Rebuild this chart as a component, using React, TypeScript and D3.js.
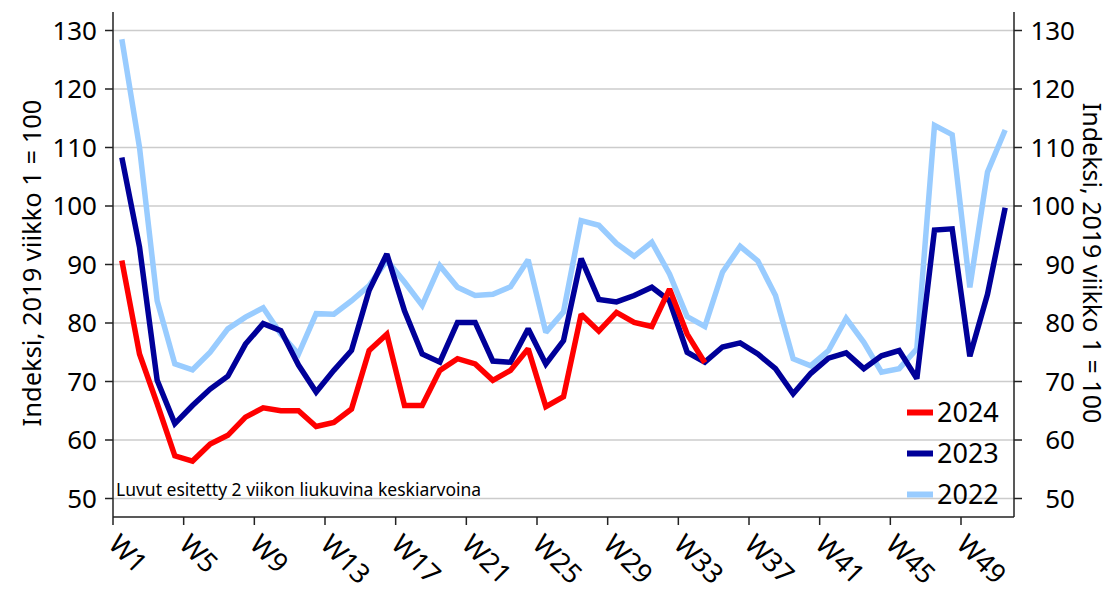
import React, { useEffect, useRef } from "react";
import * as d3 from "d3";

// weeks W1..W51
const weeks: string[] = d3.range(1, 52).map((i) => `W${i}`);
const tickWeeks = ["W1", "W5", "W9", "W13", "W17", "W21", "W25", "W29", "W33", "W37", "W41", "W45", "W49"];
const yTicks = [50, 60, 70, 80, 90, 100, 110, 120, 130];

const values2024 = [
  90.7, 74.7, 66.2, 57.3, 56.4, 59.3, 60.8, 63.9, 65.5, 65, 65, 62.3, 63, 65.3, 75.3, 78.1, 65.9,
  65.9, 71.9, 73.9, 73, 70.2, 71.9, 75.6, 65.7, 67.4, 81.5, 78.6, 81.8, 80.1, 79.4, 85.8, 78.1, 73.2,
];
const values2023 = [
  108.3, 93, 70.2, 62.8, 65.9, 68.7, 70.9, 76.4, 79.9, 78.7, 72.8, 68.2, 71.9, 75.3, 85.6, 91.8, 82.1,
  74.7, 73.3, 80.1, 80.1, 73.5, 73.3, 79, 73, 77, 91, 84, 83.6, 84.7, 86.1, 83.8, 75, 73.3, 75.9, 76.6,
  74.7, 72.2, 67.9, 71.4, 74, 74.9, 72.2, 74.4, 75.3, 70.5, 95.9, 96.1, 74.3, 84.9, 99.7,
];
const values2022 = [
  128.5, 110, 83.8, 73, 72, 75, 79, 81, 82.6, 78.1, 74.7, 81.6, 81.5, 83.8, 86.4, 90.7, 87, 83, 89.8,
  86.1, 84.7, 84.9, 86.2, 90.8, 78.4, 81.9, 97.5, 96.7, 93.6, 91.4, 93.8, 88.4, 81.1, 79.4, 88.7, 93.1,
  90.6, 84.7, 73.9, 72.7, 75.3, 80.8, 76.7, 71.6, 72.2, 75.6, 113.8, 112.2, 86.1, 105.8, 113,
];

const series = [
  { name: "2022", color: "#99CCFF", values: values2022 },
  { name: "2023", color: "#000099", values: values2023 },
  { name: "2024", color: "#FF0000", values: values2024 },
];
const legendOrder = ["2024", "2023", "2022"];

const WIDTH = 1110;
const HEIGHT = 590;
const FONT = "'Noto Sans', sans-serif";

function WeeklyIndexChart() {
  const ref = useRef<SVGSVGElement | null>(null);

  useEffect(() => {
    if (!ref.current) return;
    const svg = d3.select(ref.current);
    svg.selectAll("*").remove();

    const left = 113;
    const right = 1014;
    const top = 12;
    const bottom = 517;

    const x = d3.scaleBand<string>().domain(weeks).range([left, right]).padding(0);
    const y = d3.scaleLinear().domain([50, 130]).range([498.5, 30.5]);
    const cx = (w: string) => (x(w) ?? 0) + x.bandwidth() / 2;

    // gridlines
    svg
      .append("g")
      .selectAll("line")
      .data(yTicks)
      .join("line")
      .attr("x1", left)
      .attr("x2", right)
      .attr("y1", (d) => y(d))
      .attr("y2", (d) => y(d))
      .attr("stroke", "#cccccc")
      .attr("stroke-width", 1.5);

    // lines
    const line = d3
      .line<number>()
      .x((_, i) => cx(weeks[i]))
      .y((d) => y(d));

    series.forEach((s) => {
      svg
        .append("path")
        .attr("d", line(s.values))
        .attr("fill", "none")
        .attr("stroke", s.color)
        .attr("stroke-width", 5.5)
        .attr("stroke-linejoin", "miter")
        .attr("stroke-miterlimit", 2);
    });

    // axes frame
    const axisColor = "#222";
    svg.append("line").attr("x1", left).attr("x2", left).attr("y1", top).attr("y2", bottom)
      .attr("stroke", axisColor).attr("stroke-width", 1.5);
    svg.append("line").attr("x1", right).attr("x2", right).attr("y1", top).attr("y2", bottom)
      .attr("stroke", axisColor).attr("stroke-width", 1.5);
    svg.append("line").attr("x1", left).attr("x2", right).attr("y1", bottom).attr("y2", bottom)
      .attr("stroke", axisColor).attr("stroke-width", 1.5);

    // y ticks + labels both sides
    const yg = svg.append("g");
    yTicks.forEach((t) => {
      yg.append("line").attr("x1", left - 8).attr("x2", left).attr("y1", y(t)).attr("y2", y(t))
        .attr("stroke", axisColor).attr("stroke-width", 1.5);
      yg.append("line").attr("x1", right).attr("x2", right + 8).attr("y1", y(t)).attr("y2", y(t))
        .attr("stroke", axisColor).attr("stroke-width", 1.5);
      yg.append("text").attr("x", 97).attr("y", y(t)).attr("dy", "0.35em")
        .attr("text-anchor", "end").attr("font-size", 26).attr("font-family", FONT).text(t);
      yg.append("text").attr("x", 1075).attr("y", y(t)).attr("dy", "0.35em")
        .attr("text-anchor", "end").attr("font-size", 26).attr("font-family", FONT).text(t);
    });

    // x ticks + rotated labels
    const xg = svg.append("g");
    tickWeeks.forEach((w) => {
      const tx = x(w) ?? 0;
      xg.append("line").attr("x1", tx).attr("x2", tx).attr("y1", bottom).attr("y2", bottom + 8)
        .attr("stroke", axisColor).attr("stroke-width", 1.5);
      xg.append("text")
        .attr("transform", `translate(${tx - 6},${546}) rotate(45)`)
        .attr("font-size", 27)
        .attr("font-family", FONT)
        .text(w);
    });

    // axis titles
    svg.append("text")
      .attr("transform", `translate(41,263) rotate(-90)`)
      .attr("text-anchor", "middle").attr("font-size", 25.5).attr("font-family", FONT)
      .text("Indeksi, 2019 viikko 1 = 100");
    svg.append("text")
      .attr("transform", `translate(1083,263) rotate(90)`)
      .attr("text-anchor", "middle").attr("font-size", 25).attr("font-family", FONT)
      .text("Indeksi, 2019 viikko 1 = 100");

    // note
    svg.append("text").attr("x", 116).attr("y", 496).attr("font-size", 17.5).attr("font-family", FONT)
      .text("Luvut esitetty 2 viikon liukuvina keskiarvoina");

    // legend
    const lg = svg.append("g");
    legendOrder.forEach((name, i) => {
      const s = series.find((d) => d.name === name)!;
      const ly = 412.5 + i * 41;
      lg.append("line").attr("x1", 907).attr("x2", 933).attr("y1", ly).attr("y2", ly)
        .attr("stroke", s.color).attr("stroke-width", 6);
      lg.append("text").attr("x", 937).attr("y", ly).attr("dy", "0.36em")
        .attr("font-size", 27).attr("font-family", FONT).text(name);
    });
  }, []);

  return <svg ref={ref} width={WIDTH} height={HEIGHT} style={{ display: "block" }} />;
}

export default function App() {
  return (
    <div style={{ position: "absolute", left: 0, top: 0, background: "#fff" }}>
      <WeeklyIndexChart />
    </div>
  );
}
